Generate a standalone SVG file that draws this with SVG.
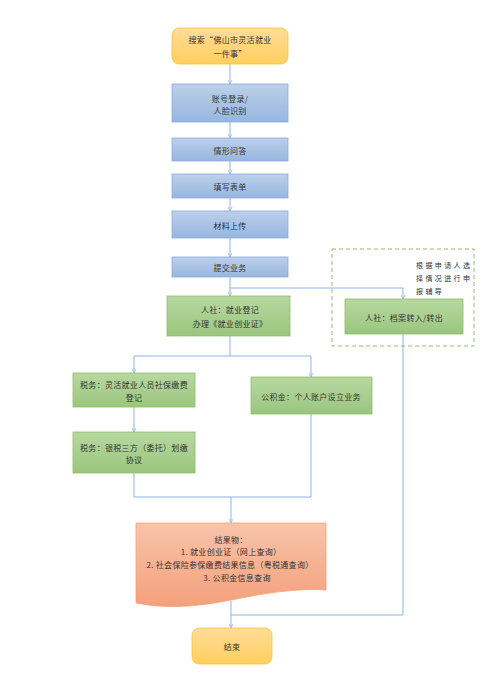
<svg xmlns="http://www.w3.org/2000/svg" width="486" height="688" viewBox="0 0 486 688">
<defs>
<linearGradient id="gY" x1="0" y1="0" x2="0" y2="1"><stop offset="0" stop-color="#ffdc98"/><stop offset="1" stop-color="#ffcf5e"/></linearGradient>
<linearGradient id="gB" x1="0" y1="0" x2="0" y2="1"><stop offset="0" stop-color="#bcd0ea"/><stop offset="1" stop-color="#97b6df"/></linearGradient>
<linearGradient id="gG" x1="0" y1="0" x2="0" y2="1"><stop offset="0" stop-color="#b7d8a0"/><stop offset="1" stop-color="#9bc67e"/></linearGradient>
<linearGradient id="gO" x1="0" y1="0" x2="0" y2="1"><stop offset="0" stop-color="#f8c4aa"/><stop offset="1" stop-color="#f4a07c"/></linearGradient>
<marker id="arr" viewBox="0 0 10 10" refX="9" refY="5" markerWidth="5" markerHeight="5" orient="auto" markerUnits="userSpaceOnUse">
<path d="M1,1 L9,5 L1,9" fill="none" stroke="#8db4e2" stroke-width="1.4"/>
</marker>
</defs>
<style>
text{font-family:"Noto Sans CJK SC","Noto Sans",sans-serif;font-size:8px;fill:#333;text-anchor:middle;dominant-baseline:central;letter-spacing:0.3px}
.b{fill:url(#gB);stroke:#8eaadb;stroke-width:0.8}
.g{fill:url(#gG);stroke:#8dbf6b;stroke-width:0.8}
.y{fill:url(#gY);stroke:#f5c342;stroke-width:0.8}
.c{fill:none;stroke:#8db4e2;stroke-width:1}
.s{font-size:7px;text-anchor:start;letter-spacing:2.4px}
</style>
<rect width="486" height="688" fill="#fff"/>
<g id="connectors">
<path class="c" d="M230,64 V84" marker-end="url(#arr)"/>
<path class="c" d="M230,122 V138" marker-end="url(#arr)"/>
<path class="c" d="M230,161 V174" marker-end="url(#arr)"/>
<path class="c" d="M230,198 V211" marker-end="url(#arr)"/>
<path class="c" d="M230,238 V257" marker-end="url(#arr)"/>
<path class="c" d="M230,277 V296" marker-end="url(#arr)"/>
<path class="c" d="M230,288 H403 V299" marker-end="url(#arr)"/>
<path class="c" d="M230,336 V356 H134 V373" marker-end="url(#arr)"/>
<path class="c" d="M230,356 H311 V377" marker-end="url(#arr)"/>
<path class="c" d="M134,407 V432" marker-end="url(#arr)"/>
<path class="c" d="M134,473 V497 H311 V414"/>
<path class="c" d="M231,497 V523" marker-end="url(#arr)"/>
<path class="c" d="M231,601 V628" marker-end="url(#arr)"/>
<path class="c" d="M403,334 V615 H231"/>
</g>
<g id="start">
<rect class="y" x="172" y="28" width="116" height="36" rx="7"/>
<text x="230" y="39">搜索“佛山市灵活就业</text>
<text x="230" y="53">一件事”</text>
</g>
<g id="login">
<rect class="b" x="172" y="84" width="116" height="38"/>
<text x="230" y="98">账号登录/</text>
<text x="230" y="110">人脸识别</text>
</g>
<g id="qa">
<rect class="b" x="172" y="138" width="116" height="23"/>
<text x="230" y="150">情形问答</text>
</g>
<g id="form">
<rect class="b" x="172" y="174" width="116" height="24"/>
<text x="230" y="186">填写表单</text>
</g>
<g id="upload">
<rect class="b" x="172" y="211" width="116" height="27"/>
<text x="230" y="225">材料上传</text>
</g>
<g id="submit">
<rect class="b" x="172" y="257" width="116" height="20"/>
<text x="230" y="267">提交业务</text>
</g>
<g id="register">
<rect class="g" x="167" y="296" width="123" height="40"/>
<text x="230" y="309">人社：就业登记</text>
<text x="230" y="323">办理《就业创业证》</text>
</g>
<g id="archive-group">
<rect x="332" y="249" width="142" height="97" fill="none" stroke="#82b95a" stroke-width="0.9" stroke-dasharray="4,3"/>
<text class="s" x="416" y="265">根据申请人选</text>
<text class="s" x="416" y="278">择情况进行申</text>
<text class="s" x="416" y="291">报辅导</text>
</g>
<g id="archive">
<rect class="g" x="345" y="299" width="118" height="35"/>
<text x="404" y="317">人社：档案转入/转出</text>
</g>
<g id="tax1">
<rect class="g" x="73" y="373" width="122" height="34"/>
<text x="134" y="384">税务：灵活就业人员社保缴费</text>
<text x="134" y="397">登记</text>
</g>
<g id="tax2">
<rect class="g" x="73" y="432" width="122" height="41"/>
<text x="134" y="447">税务：银税三方（委托）划缴</text>
<text x="134" y="459">协议</text>
</g>
<g id="fund">
<rect class="g" x="251" y="377" width="121" height="37"/>
<text x="311" y="396">公积金：个人账户设立业务</text>
</g>
<g id="result">
<path d="M136,523 H326 V590 C296,588 266,593 231,600 C196,607 166,609 136,603 Z" fill="url(#gO)" stroke="#f3a27c" stroke-width="0.8"/>
<text x="231" y="539">结果物：</text>
<text x="231" y="551">1.  就业创业证（网上查询）</text>
<text x="230" y="564">2.  社会保险参保缴费结果信息（粤税通查询）</text>
<text x="237" y="577">3.  公积金信息查询</text>
</g>
<g id="end">
<rect class="y" x="192" y="628" width="80" height="36" rx="7"/>
<text x="232" y="646">结束</text>
</g>
</svg>
